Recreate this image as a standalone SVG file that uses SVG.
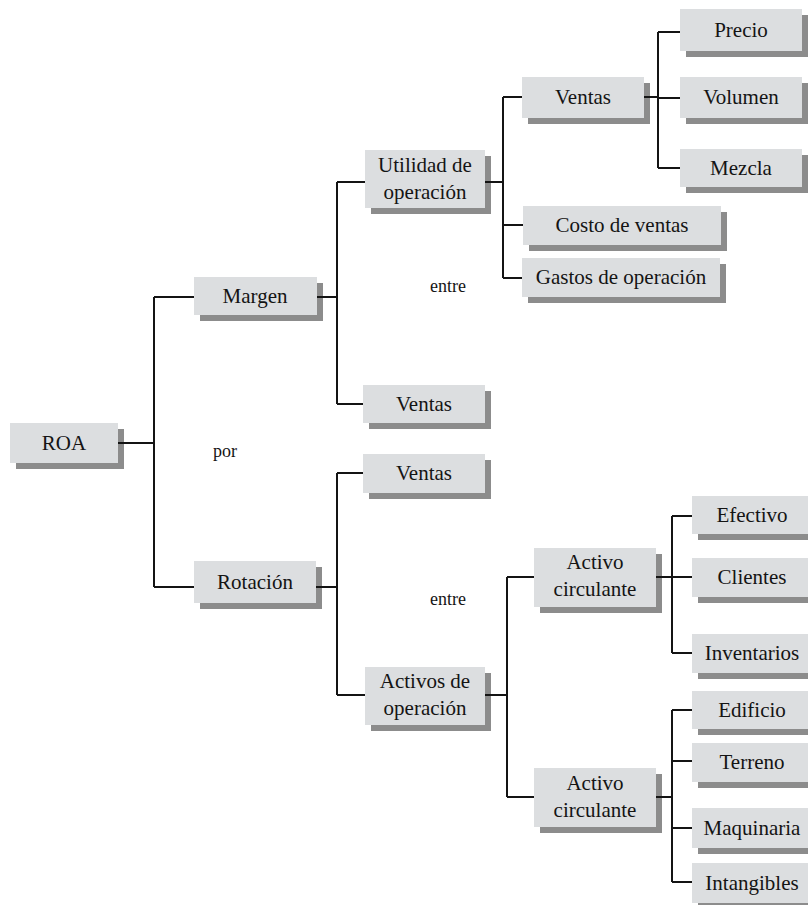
<svg xmlns="http://www.w3.org/2000/svg" width="808" height="905" viewBox="0 0 808 905">
<style>
.box{fill:#dcdee0}
.sh{fill:#8c8c8c}
text{font-family:'Liberation Serif','DejaVu Serif','Noto Serif',Times,serif;fill:#141414;text-anchor:middle}
.t{font-size:21px}
.s{font-size:18px}
.c{stroke:#141414;stroke-width:2;fill:none}
</style>
<rect width="808" height="905" fill="#ffffff"/>
<g id="n-roa"><rect class="sh" x="16" y="429" width="108" height="40"/><rect class="box" x="10" y="423" width="108" height="40"/><text class="t" x="64" y="450">ROA</text></g>
<g id="n-margen"><rect class="sh" x="200" y="283" width="123" height="38"/><rect class="box" x="194" y="277" width="123" height="38"/><text class="t" x="255" y="303">Margen</text></g>
<g id="n-utilidad"><rect class="sh" x="371" y="156" width="120" height="58"/><rect class="box" x="365" y="150" width="120" height="58"/><text class="t" x="425" y="172">Utilidad de</text><text class="t" x="425" y="199">operación</text></g>
<g id="n-ventas1"><rect class="sh" x="528" y="83" width="122" height="41"/><rect class="box" x="522" y="77" width="122" height="41"/><text class="t" x="583" y="104">Ventas</text></g>
<g id="n-precio"><rect class="sh" x="686" y="15" width="122" height="42"/><rect class="box" x="680" y="9" width="122" height="42"/><text class="t" x="741" y="37">Precio</text></g>
<g id="n-volumen"><rect class="sh" x="686" y="83" width="122" height="41"/><rect class="box" x="680" y="77" width="122" height="41"/><text class="t" x="741" y="104">Volumen</text></g>
<g id="n-mezcla"><rect class="sh" x="686" y="155" width="122" height="38"/><rect class="box" x="680" y="149" width="122" height="38"/><text class="t" x="741" y="175">Mezcla</text></g>
<g id="n-costo"><rect class="sh" x="529" y="212" width="198" height="39"/><rect class="box" x="523" y="206" width="198" height="39"/><text class="t" x="622" y="232">Costo de ventas</text></g>
<g id="n-gastos"><rect class="sh" x="528" y="264" width="198" height="39"/><rect class="box" x="522" y="258" width="198" height="39"/><text class="t" x="621" y="284">Gastos de operación</text></g>
<g id="n-entre1"><text class="s" x="448" y="292">entre</text></g>
<g id="n-ventas2"><rect class="sh" x="369" y="391" width="122" height="38"/><rect class="box" x="363" y="385" width="122" height="38"/><text class="t" x="424" y="411">Ventas</text></g>
<g id="n-por"><text class="s" x="225" y="457">por</text></g>
<g id="n-ventas3"><rect class="sh" x="369" y="460" width="122" height="39"/><rect class="box" x="363" y="454" width="122" height="39"/><text class="t" x="424" y="480">Ventas</text></g>
<g id="n-rotacion"><rect class="sh" x="200" y="567" width="122" height="42"/><rect class="box" x="194" y="561" width="122" height="42"/><text class="t" x="255" y="589">Rotación</text></g>
<g id="n-entre2"><text class="s" x="448" y="605">entre</text></g>
<g id="n-activos"><rect class="sh" x="371" y="673" width="120" height="58"/><rect class="box" x="365" y="667" width="120" height="58"/><text class="t" x="425" y="688">Activos de</text><text class="t" x="425" y="715">operación</text></g>
<g id="n-ac1"><rect class="sh" x="540" y="554" width="122" height="59"/><rect class="box" x="534" y="548" width="122" height="59"/><text class="t" x="595" y="569">Activo</text><text class="t" x="595" y="596">circulante</text></g>
<g id="n-ac2"><rect class="sh" x="540" y="774" width="122" height="59"/><rect class="box" x="534" y="768" width="122" height="59"/><text class="t" x="595" y="790">Activo</text><text class="t" x="595" y="817">circulante</text></g>
<g id="n-efectivo"><rect class="sh" x="698" y="502" width="120" height="38"/><rect class="box" x="692" y="496" width="120" height="38"/><text class="t" x="752" y="522">Efectivo</text></g>
<g id="n-clientes"><rect class="sh" x="698" y="564" width="120" height="39"/><rect class="box" x="692" y="558" width="120" height="39"/><text class="t" x="752" y="584">Clientes</text></g>
<g id="n-inventarios"><rect class="sh" x="698" y="640" width="120" height="39"/><rect class="box" x="692" y="634" width="120" height="39"/><text class="t" x="752" y="660">Inventarios</text></g>
<g id="n-edificio"><rect class="sh" x="698" y="697" width="120" height="38"/><rect class="box" x="692" y="691" width="120" height="38"/><text class="t" x="752" y="717">Edificio</text></g>
<g id="n-terreno"><rect class="sh" x="698" y="749" width="120" height="39"/><rect class="box" x="692" y="743" width="120" height="39"/><text class="t" x="752" y="769">Terreno</text></g>
<g id="n-maquinaria"><rect class="sh" x="698" y="814" width="120" height="40"/><rect class="box" x="692" y="808" width="120" height="40"/><text class="t" x="752" y="835">Maquinaria</text></g>
<g id="n-intangibles"><rect class="sh" x="698" y="869" width="120" height="40"/><rect class="box" x="692" y="863" width="120" height="40"/><text class="t" x="752" y="890">Intangibles</text></g>
<g id="connectors">
<path class="c" d="M118 443H154M154 297V587M154 297H194M154 587H194"/>
<path class="c" d="M317 297H337M337 182V404M337 182H365M337 404H363"/>
<path class="c" d="M485 182H503M503 97V278M503 97H522M503 225H523M503 278H522"/>
<path class="c" d="M644 97H658M658 32V168M658 32H680M658 98H680M658 168H680"/>
<path class="c" d="M316 587H337M337 473V695M337 473H363M337 695H365"/>
<path class="c" d="M485 695H507M507 577V797M507 577H534M507 797H534"/>
<path class="c" d="M656 577H672M672 516V653M672 516H692M672 577H692M672 653H692"/>
<path class="c" d="M656 797H672M672 710V882M672 710H692M672 761H692M672 828H692M672 882H692"/>
</g>
</svg>
